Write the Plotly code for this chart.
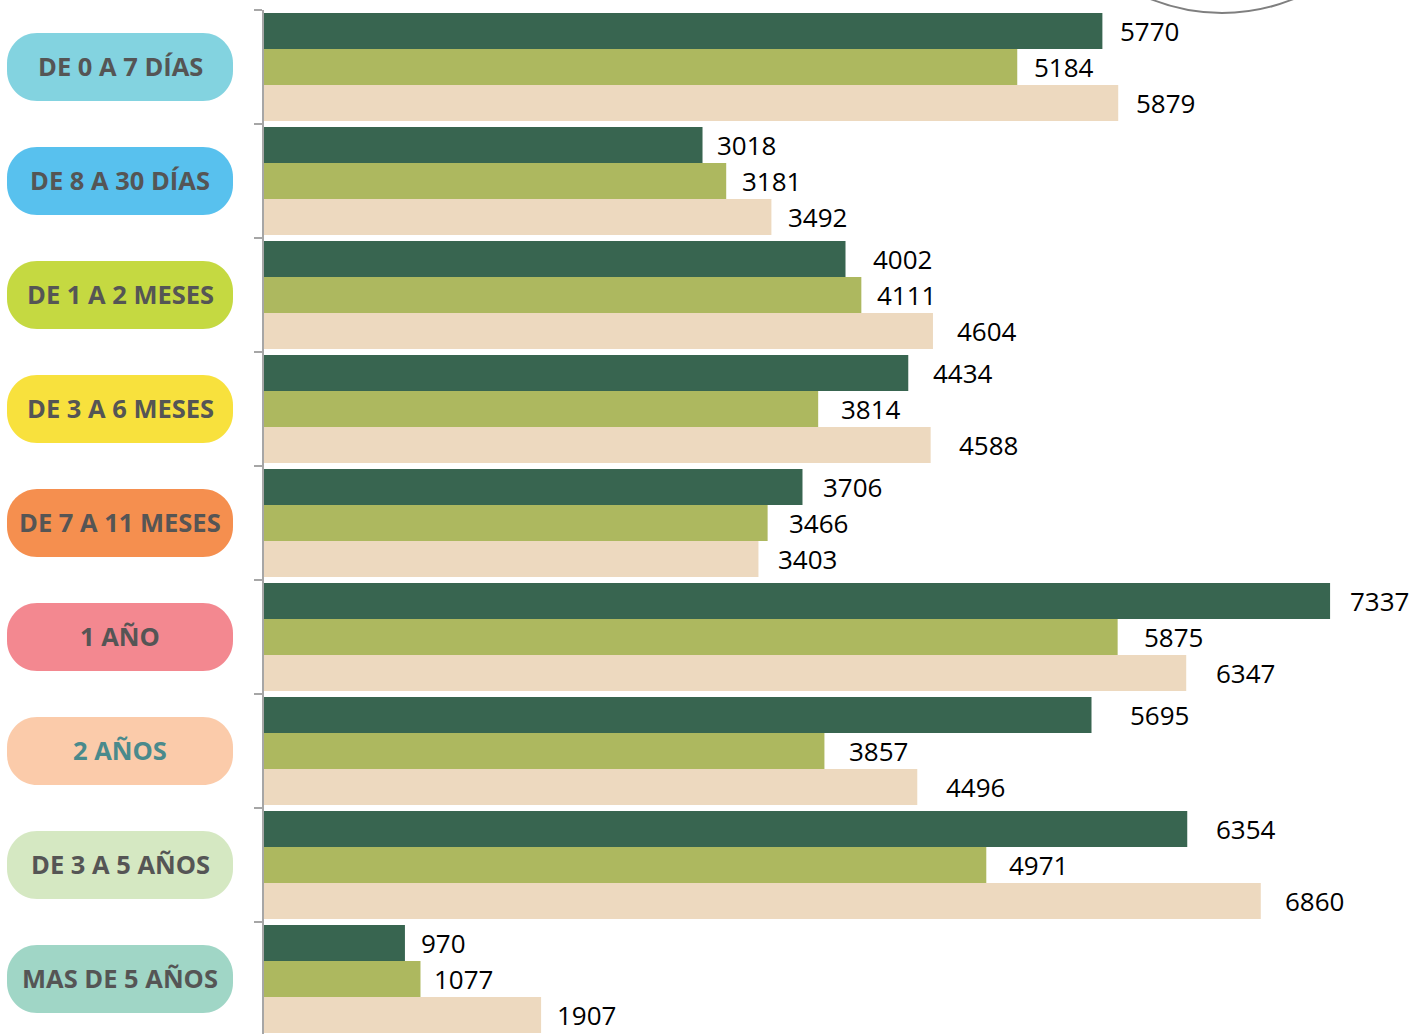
import plotly.graph_objects as go

categories = ["DE 0 A 7 DÍAS", "DE 8 A 30 DÍAS", "DE 1 A 2 MESES", "DE 3 A 6 MESES",
              "DE 7 A 11 MESES", "1 AÑO", "2 AÑOS", "DE 3 A 5 AÑOS", "MAS DE 5 AÑOS"]
series_a = [5770, 3018, 4002, 4434, 3706, 7337, 5695, 6354, 970]
series_b = [5184, 3181, 4111, 3814, 3466, 5875, 3857, 4971, 1077]
series_c = [5879, 3492, 4604, 4588, 3403, 6347, 4496, 6860, 1907]

# label gap (pixels) from bar end to its value label, as placed in the original
label_gap_a = [19, 15, 28, 26, 22, 21, 39, 30, 17]
label_gap_b = [18, 17, 17, 24, 22, 27, 26, 24, 15]
label_gap_c = [19, 18, 25, 29, 21, 31, 30, 25, 17]

pill_colors = ["#83D3E0", "#58C1EE", "#C5D941", "#F8E13D", "#F58F4F",
               "#F38890", "#FBCBAA", "#D5E8C2", "#A0D6C6"]
pill_text_colors = ["#555555"] * 6 + ["#4A8A8C"] + ["#555555"] * 2
bar_colors = ["#386550", "#ADB85F", "#EDD9BF"]

ypos = list(range(len(categories)))
series = [series_a, series_b, series_c]
gaps = [label_gap_a, label_gap_b, label_gap_c]

fig = go.Figure()
for vals, col in zip(series, bar_colors):
    fig.add_trace(go.Bar(x=vals, y=ypos, orientation="h", marker=dict(color=col, line=dict(width=0)),
                         showlegend=False, hoverinfo="x"))

bargap = 6 / 114
group_w = 1 - bargap
offsets = [(-1 + i) * group_w / 3 for i in range(3)]

annotations = []
for vals, off, gp in zip(series, offsets, gaps):
    for yi, v, g in zip(ypos, vals, gp):
        annotations.append(dict(x=v, y=yi + off, xref="x", yref="y", text=str(v),
                                showarrow=False, xanchor="left", yanchor="middle", xshift=g - 3,
                                font=dict(family="Open Sans", size=26, color="#000000")))

shapes = []
x0, x1, y0, y1, r = -257, -31, -34, 34, 30
k = 0.5523 * r
pill_path = (f"M {x0+r},{y0} L {x1-r},{y0} C {x1-r+k},{y0} {x1},{y0+r-k} {x1},{y0+r} "
             f"L {x1},{y1-r} C {x1},{y1-r+k} {x1-r+k},{y1} {x1-r},{y1} "
             f"L {x0+r},{y1} C {x0+r-k},{y1} {x0},{y1-r+k} {x0},{y1-r} "
             f"L {x0},{y0+r} C {x0},{y0+r-k} {x0+r-k},{y0} {x0+r},{y0} Z")
for yi, cat, pc, tc in zip(ypos, categories, pill_colors, pill_text_colors):
    shapes.append(dict(type="path", xref="paper", yref="y", xsizemode="pixel", ysizemode="pixel",
                       xanchor=0, yanchor=yi, path=pill_path, fillcolor=pc, line=dict(width=0),
                       layer="above"))
    annotations.append(dict(x=0, y=yi, xref="paper", yref="y", xshift=-144, yshift=1, text=f"<b>{cat}</b>",
                            showarrow=False, xanchor="center", yanchor="middle",
                            font=dict(family="Open Sans", size=25.5, color=tc)))

# decorative grey arc at the top right
shapes.append(dict(type="circle", xref="paper", yref="paper", xsizemode="pixel", ysizemode="pixel",
                   xanchor=0, yanchor=1, x0=768, x1=1148, y0=-3, y1=377,
                   line=dict(color="#7F7F7F", width=2), fillcolor="rgba(0,0,0,0)"))

fig.update_layout(
    width=1427, height=1034,
    margin=dict(l=264, r=0, t=10, b=0, pad=0),
    plot_bgcolor="white", paper_bgcolor="white",
    barmode="group", bargap=bargap, bargroupgap=0,
    xaxis=dict(range=[0, 8004], showgrid=False, zeroline=False, showticklabels=False,
               showline=False, ticks=""),
    yaxis=dict(range=[8.482, -0.5], showgrid=False, zeroline=False, showticklabels=False,
               showline=True, linecolor="#A6A6A6", linewidth=2,
               tickmode="array", tickvals=[i - 0.5 for i in range(len(categories) + 1)],
               ticks="outside", ticklen=8, tickwidth=2, tickcolor="#A6A6A6"),
    shapes=shapes, annotations=annotations,
)

fig.write_html("out.html", config={"displayModeBar": False},
               post_script="document.body.style.margin='0';")
